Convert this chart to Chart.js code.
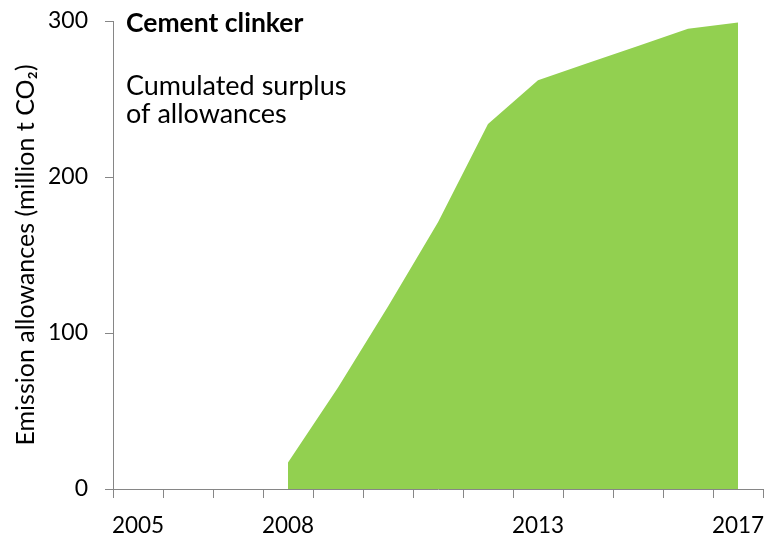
<!DOCTYPE html>
<html>
<head>
<meta charset="utf-8">
<script src="https://cdn.jsdelivr.net/npm/chart.js@4"></script>
<style>
  html, body { margin: 0; padding: 0; background: #fff; }
  #wrap { width: 765px; height: 536px; }
</style>
</head>
<body>
<div id="wrap"><canvas id="clinkerChart"></canvas></div>
<script>
// DATA

const years = [
  "2005", "2006", "2007", "2008", "2009", "2010", "2011",
  "2012", "2013", "2014", "2015", "2016", "2017",
];
const shownYears = ["2005", "2008", "2013", "2017"];
// cumulated surplus, million t CO2 (no values before 2008)
const surplus = [null, null, null, 17, 65, 117, 171, 234, 262, 273, 284, 295, 299];
const yTicks = [0, 100, 200, 300];

const chartTitle = "Cement clinker";
const noteLines = ["Cumulated surplus", "of allowances"];

const fontFamily = "Lato, 'Open Sans', sans-serif";
const axisGrey = "#868686";

// text written inside the plot, top left
const notesPlugin = {
  id: "notes",
  afterDraw(chart) {
    const { ctx, chartArea } = chart;
    const x = chartArea.left + 13;
    ctx.save();
    ctx.fillStyle = "#000";
    ctx.textAlign = "left";
    ctx.textBaseline = "alphabetic";
    ctx.font = "bold 26.5px " + fontFamily;
    ctx.fillText(chartTitle, x, chartArea.top + 11);
    ctx.font = "27px " + fontFamily;
    noteLines.forEach((line, i) => {
      ctx.fillText(line, x, chartArea.top + 73.5 + i * 28.5);
    });
    ctx.restore();
  },
};

const clinkerChart = document.getElementById("clinkerChart");

new Chart(clinkerChart, {
  type: "line",
  data: {
    labels: years,
    datasets: [
      {
        label: "Cumulated surplus",
        data: surplus,
        fill: "origin",
        backgroundColor: "#92D050",
        borderWidth: 0,
        pointRadius: 0,
        tension: 0,
      },
    ],
  },
  plugins: [notesPlugin],
  options: {
    responsive: true,
    maintainAspectRatio: false,
    animation: false,
    layout: {
      padding: { top: 21, right: 2, left: 0, bottom: 0 },
    },
    plugins: {
      legend: { display: false },
      tooltip: { enabled: false },
    },
    scales: {
      x: {
        type: "category",
        offset: true,
        afterFit: (scale) => {
          scale.height = 47;
          scale.paddingLeft = 0;
          scale.paddingRight = 0;
        },
        grid: {
          offset: true,
          drawOnChartArea: false,
          drawTicks: true,
          tickLength: 9,
          color: axisGrey,
        },
        border: { color: axisGrey, width: 1 },
        ticks: {
          autoSkip: false,
          maxRotation: 0,
          padding: 14,
          color: "#000",
          font: { family: fontFamily, size: 22.5 },
          callback: function (value) {
            const lbl = this.getLabelForValue(value);
            return shownYears.includes(lbl) ? lbl : "";
          },
        },
      },
      y: {
        min: yTicks[0],
        max: yTicks[yTicks.length - 1],
        afterFit: (scale) => {
          scale.width = 113;
          scale.paddingTop = 0;
          scale.paddingBottom = 0;
        },
        afterBuildTicks: (scale) => {
          scale.ticks = yTicks.map((v) => ({ value: v }));
        },
        grid: {
          drawOnChartArea: false,
          drawTicks: true,
          tickLength: 8,
          color: axisGrey,
        },
        border: { color: axisGrey, width: 1 },
        ticks: {
          padding: 17,
          color: "#000",
          font: { family: fontFamily, size: 23 },
        },
        title: {
          display: true,
          text: "Emission allowances (million t CO₂)",
          color: "#000",
          font: { family: fontFamily, size: 25 },
          padding: { top: 11, bottom: 0 },
        },
      },
    },
  },
});
</script>
</body>
</html>
